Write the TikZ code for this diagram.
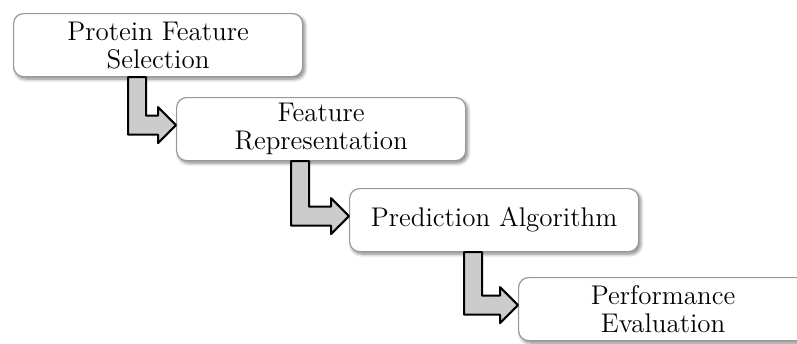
\documentclass[tikz,border=0pt]{standalone}
\usetikzlibrary{calc,shadows.blur}
\begin{document}
\begin{tikzpicture}[x=0.5pt, y=-0.5pt, line join=round, font=\fontsize{13.5}{14}\selectfont,
  stage/.style={draw=gray!80, line width=0.6pt, fill=white, rounded corners=5pt, anchor=north west, minimum width=144.5pt, minimum height=31.5pt, align=center, inner sep=2pt, blur shadow={shadow xshift=1pt, shadow yshift=-1.2pt, shadow blur steps=6, shadow opacity=50}},
  larrow/.style={draw=black, line width=1pt, fill=gray!40}]
\useasboundingbox (0,0) rectangle (797,343);
\foreach \n/\x/\y/\t in {sel/13/13/{Protein Feature\\Selection}, rep/176/97/{Feature\\Representation}, alg/349/188/{Prediction Algorithm}, eva/518/277/{Performance\\Evaluation}} \node[stage] (\n) at (\x,\y) {\t};
\foreach \a/\b in {sel/rep,rep/alg,alg/eva} {\path ($(\b.west)+(0,-4)$) coordinate (t);
  \draw[larrow] ($(\a.south west)+(115,0)$) coordinate (s) |- ($(t)+(-18,9.5)$) -- ++(0,8.5) -- (t) -- ++(-18,-18) -- ++(0,8.5) -| ($(s)+(18,0)$) -- cycle;}
\end{tikzpicture}
\end{document}
